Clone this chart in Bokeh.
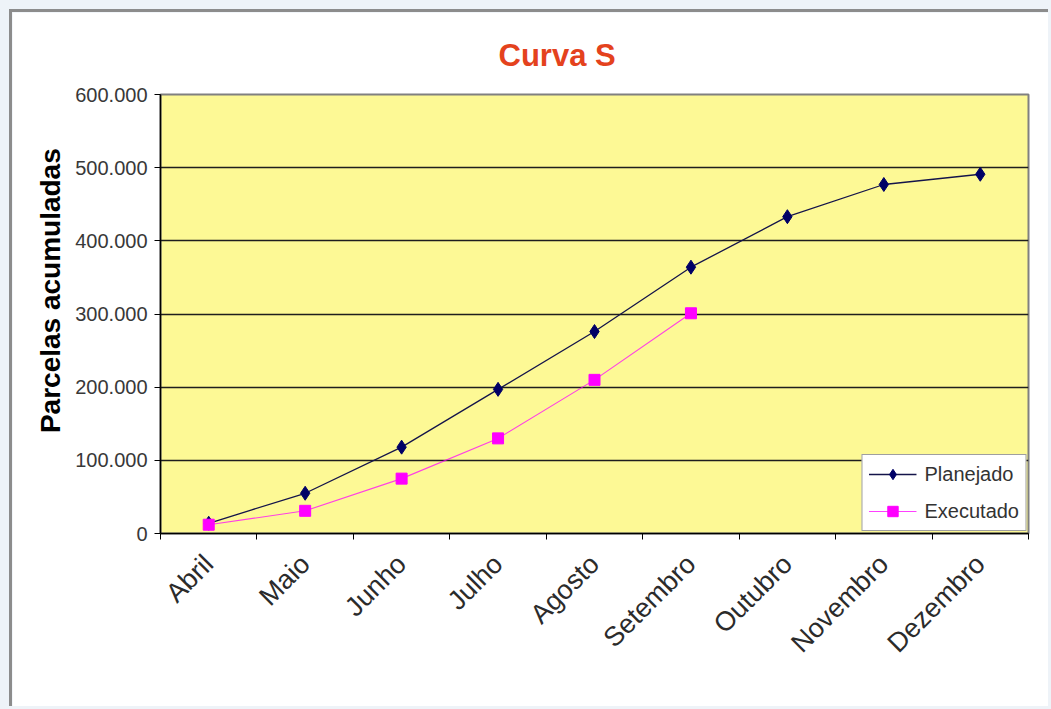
import math
from bokeh.plotting import figure
from bokeh.models import FixedTicker, Legend, LegendItem
from bokeh.layouts import column
from bokeh.embed import file_html
from bokeh.resources import INLINE

# --- data -------------------------------------------------------------
months = ["Abril", "Maio", "Junho", "Julho", "Agosto",
          "Setembro", "Outubro", "Novembro", "Dezembro"]
planejado = [14000, 55000, 118000, 197000, 276000, 364000, 433000, 477000, 491000]
executado = [12000, 31000, 75000, 130000, 210000, 301000]

y_ticks = [0, 100000, 200000, 300000, 400000, 500000, 600000]
y_tick_labels = ["0", "100.000", "200.000", "300.000", "400.000", "500.000", "600.000"]

# category i is centred at i + 0.5 on a numeric axis
x_plan = [i + 0.5 for i in range(len(planejado))]
x_exec = [i + 0.5 for i in range(len(executado))]

FONT = "Liberation Sans"
YELLOW = "#FDF995"

p = figure(width=1039, height=697,
           x_range=(0, len(months)), y_range=(0, 600000),
           output_backend="svg", toolbar_location=None,
           min_border_left=148, min_border_right=23,
           min_border_top=82, min_border_bottom=176)
p.background_fill_color = YELLOW
p.border_fill_color = "white"
p.outline_line_color = "#808080"
p.outline_line_width = 2

# title
p.title.text = "Curva S"
p.title.text_font = FONT
p.title.text_font_size = "31px"
p.title.text_font_style = "bold"
p.title.text_color = "#E4421D"
p.title.align = "left"
p.title.offset = 338
p.title.standoff = 44

# x axis: labels at category centres, tick marks between categories
xa = p.xaxis[0]
xa.ticker = FixedTicker(ticks=x_plan, minor_ticks=list(range(len(months) + 1)))
xa.major_label_overrides = {x: m for x, m in zip(x_plan, months)}
xa.major_tick_out = 0
xa.major_tick_in = 0
xa.minor_tick_out = 6
xa.minor_tick_in = 0
xa.minor_tick_line_color = "black"
xa.axis_line_color = "black"
xa.axis_line_width = 1.5
xa.major_label_orientation = math.pi / 4
xa.major_label_text_font = FONT
xa.major_label_text_font_size = "27px"
xa.major_label_text_color = "#2b2b2b"
xa.major_label_standoff = 20

# y axis
ya = p.yaxis[0]
ya.ticker = FixedTicker(ticks=y_ticks)
ya.major_label_overrides = {t: s for t, s in zip(y_ticks, y_tick_labels)}
ya.major_tick_out = 6
ya.major_tick_in = 0
ya.minor_tick_line_color = None
ya.axis_line_color = "black"
ya.axis_line_width = 1.5
ya.major_label_text_font = FONT
ya.major_label_text_font_size = "20px"
ya.major_label_text_color = "#383838"
ya.major_label_standoff = 7
# leading no-break spaces lift the centred title a little above mid-axis
ya.axis_label = "\u00a0" * 6 + "Parcelas acumuladas"
ya.axis_label_text_font = FONT
ya.axis_label_text_font_size = "28px"
ya.axis_label_text_font_style = "bold"
ya.axis_label_text_color = "black"
ya.axis_label_standoff = 6

p.xgrid.grid_line_color = None
p.ygrid.ticker = FixedTicker(ticks=y_ticks)
p.ygrid.grid_line_color = "#1e1e1e"
p.ygrid.grid_line_width = 1.5

# series
plan_line = p.line(x_plan, planejado, line_color="#14144a", line_width=1.3)
plan_pts = p.scatter(x_plan, planejado, marker="diamond", size=14,
                     fill_color="#000066", line_color="#000066")
exec_line = p.line(x_exec, executado, line_color="#FF00FF", line_width=1.1,
                   line_alpha=0.75)
exec_pts = p.scatter(x_exec, executado, marker="square", size=11,
                     fill_color="#FF00FF", line_color="#FF00FF")

legend = Legend(items=[
    LegendItem(label="Planejado", renderers=[plan_line, plan_pts]),
    LegendItem(label="Executado", renderers=[exec_line, exec_pts]),
])
legend.location = "bottom_right"
legend.margin = 2
legend.padding = 6
legend.spacing = 11
legend.glyph_width = 48
legend.glyph_height = 26
legend.label_height = 26
legend.label_standoff = 8
legend.label_text_font = FONT
legend.label_text_font_size = "20px"
legend.label_text_color = "#333333"
legend.border_line_color = "#404040"
legend.border_line_width = 1.5
legend.background_fill_color = "white"
legend.background_fill_alpha = 1
p.add_layout(legend)

p.styles = {"border-left": "3px solid #8c8c8c", "border-top": "3px solid #8c8c8c"}

page = column(p, width=1051, height=709,
              styles={"background-color": "#EEF3F8", "padding": "9px 0 0 9px",
                      "box-sizing": "border-box"})

open("out.html", "w").write(file_html(page, INLINE))
